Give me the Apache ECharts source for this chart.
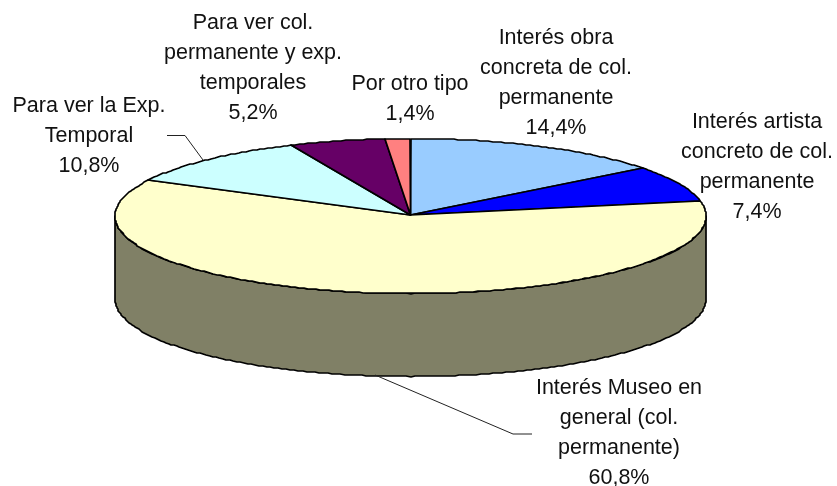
<!DOCTYPE html>
<html>
<head>
<meta charset="utf-8">
<title>Motivo de la visita</title>
<style>
html,body{margin:0;padding:0;background:#fff}
#main{width:837px;height:486px}
</style>
<script src="https://cdn.jsdelivr.net/npm/echarts@6/dist/echarts.min.js"></script>
</head>
<body>
<div id="main"></div>
<script>
// datos, en orden horario desde las 12
var categories = ['Interés obra\nconcreta de col.\npermanente', 'Interés artista\nconcreto de col.\npermanente', 'Interés Museo en\ngeneral (col.\npermanente)', 'Para ver la Exp.\nTemporal', 'Para ver col.\npermanente y exp.\ntemporales', 'Por otro tipo'];
var values = [14.4, 7.4, 60.8, 10.8, 5.2, 1.4];
var colors = ['#99ccff', '#0000ff', '#ffffcc', '#ccffff', '#660066', '#ff8080'];
var sideColors = ['#4c667f', '#00007f', '#808066', '#667f7f', '#330033', '#7f4040'];

var myChart = echarts.init(document.getElementById('main'));

// elipse de la tarta
var cx = 410.5, cy = 216, rx = 295.5, ry = 77.5, depth = 83;
var total = values.reduce(function (a, b) { return a + b; }, 0);

function startOf(i) {
    var sum = 0;
    for (var k = 0; k < i; k++) sum += values[k];
    return sum / total * Math.PI * 2;
}
function pt(a, dy) {
    return [Math.round(cx + rx * Math.sin(a)), Math.round(cy - ry * Math.cos(a) + (dy || 0))];
}
function arcPts(a0, a1, dy) {
    var pts = [], n = Math.max(2, Math.ceil((a1 - a0) / 0.015));
    for (var k = 0; k <= n; k++) pts.push(pt(a0 + (a1 - a0) * k / n, dy));
    return pts;
}

function renderTop(params, api) {
    var i = params.dataIndex;
    var a0 = startOf(i);
    var a1 = a0 + api.value(1) / total * Math.PI * 2;
    return {
        type: 'polygon',
        shape: { points: [[cx, cy - 1]].concat(arcPts(a0, a1)) },
        style: { fill: colors[i], stroke: '#000', lineWidth: 1.7, lineJoin: 'round' }
    };
}

// solo se ve la parte delantera del lateral
function renderSide(params, api) {
    var i = params.dataIndex;
    var a0 = Math.max(startOf(i), Math.PI / 2);
    var a1 = Math.min(startOf(i) + api.value(1) / total * Math.PI * 2, Math.PI * 1.5);
    if (a1 <= a0) return;
    return {
        type: 'polygon',
        shape: { points: arcPts(a0, a1).concat(arcPts(a0, a1, depth).reverse()) },
        style: { fill: sideColors[i], stroke: '#000', lineWidth: 1.7, lineJoin: 'round' }
    };
}

var labelPos = [[556, 23], [757, 107], [619, 373], [89, 91], [253, 8], [410, 69]];

function renderLabel(params, api) {
    var i = params.dataIndex;
    return {
        type: 'text',
        style: {
            x: labelPos[i][0],
            y: labelPos[i][1],
            text: categories[i] + '\n' + String(api.value(1)).replace('.', ',') + '%',
            fill: '#111',
            font: '21.5px "Liberation Sans", Arial, sans-serif',
            lineHeight: 30,
            align: 'center',
            verticalAlign: 'top'
        }
    };
}

var leaderLines = [
    [[167, 135.5], [185, 135.5], [203, 160]],
    [[375, 375], [513, 434], [532, 434]]
];

var seriesData = values.map(function (v, i) { return [i, v]; });

var option = {
    animation: false,
    backgroundColor: '#fff',
    series: [{
        type: 'custom',
        coordinateSystem: 'none',
        renderItem: renderSide,
        data: seriesData,
        z: 1
    }, {
        type: 'custom',
        coordinateSystem: 'none',
        renderItem: renderTop,
        data: seriesData,
        z: 2
    }, {
        type: 'custom',
        coordinateSystem: 'none',
        renderItem: renderLabel,
        data: seriesData,
        z: 4
    }, {
        type: 'custom',
        coordinateSystem: 'none',
        renderItem: function (params) {
            return {
                type: 'polyline',
                shape: { points: leaderLines[params.dataIndex] },
                style: { fill: 'none', stroke: '#222', lineWidth: 1 }
            };
        },
        data: [0, 1],
        z: 3
    }]
};
myChart.setOption(option);
window.addEventListener('resize', function () {
    myChart.resize();
});
</script>
</body>
</html>
